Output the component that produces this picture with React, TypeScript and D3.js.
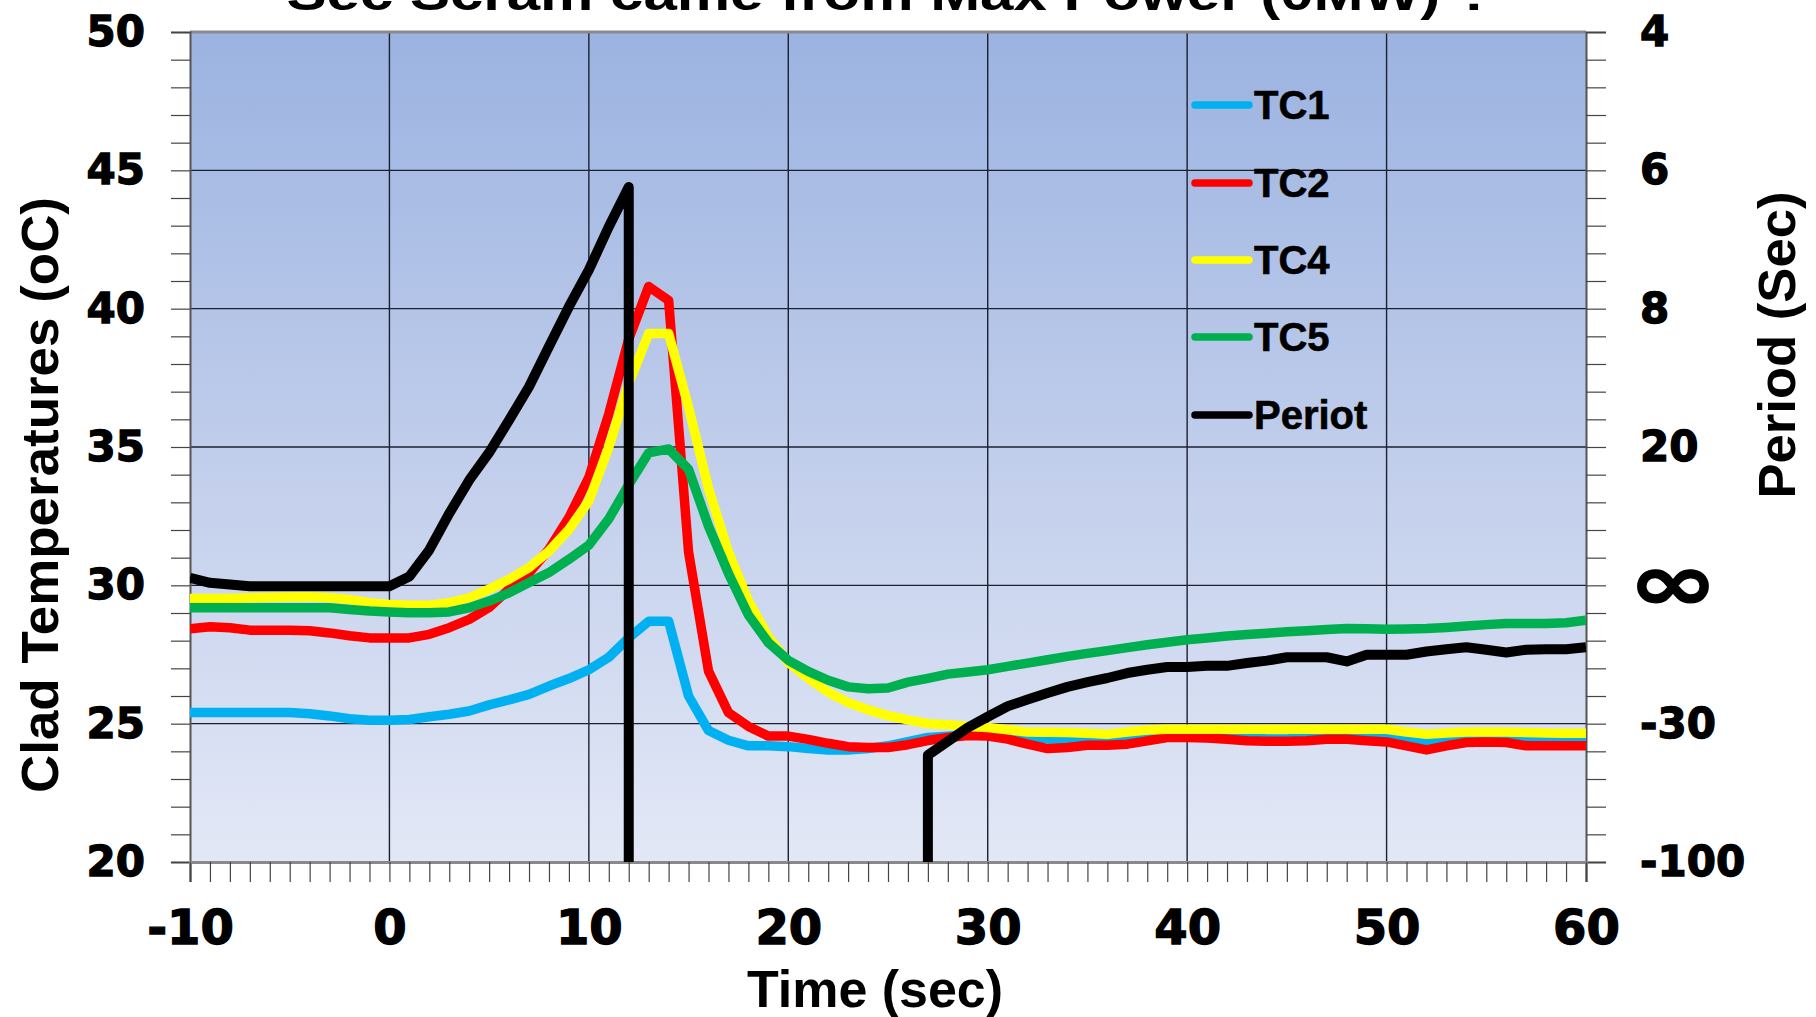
import React, { useRef, useEffect } from 'react';
import * as d3 from 'd3';

// time axis (sec)
const time = [
  -10, -9, -8, -7, -6, -5, -4, -3, -2, -1, 0,
  1, 2, 3, 4, 5, 6, 7, 8, 9, 10,
  11, 12, 13, 14, 15, 16, 17, 18, 19, 20,
  21, 22, 23, 24, 25, 26, 27, 28, 29, 30,
  31, 32, 33, 34, 35, 36, 37, 38, 39, 40,
  41, 42, 43, 44, 45, 46, 47, 48, 49, 50,
  51, 52, 53, 54, 55, 56, 57, 58, 59, 60,
];

const tc1 = [
  25.4, 25.4, 25.4, 25.4, 25.4, 25.4, 25.36, 25.28, 25.18, 25.12, 25.12,
  25.15, 25.25, 25.34, 25.46, 25.68, 25.86, 26.06, 26.36, 26.63, 26.95,
  27.4, 28.1, 28.7, 28.7, 26.0, 24.75, 24.4, 24.2, 24.2, 24.17,
  24.1, 24.05, 24.05, 24.1, 24.2, 24.35, 24.5, 24.55, 24.6, 24.6,
  24.55, 24.5, 24.45, 24.45, 24.45, 24.45, 24.45, 24.5, 24.55, 24.55,
  24.55, 24.55, 24.5, 24.45, 24.45, 24.5, 24.5, 24.5, 24.5, 24.5,
  24.4, 24.35, 24.4, 24.45, 24.45, 24.45, 24.4, 24.4, 24.4, 24.4,
];

const tc2 = [
  28.43, 28.5, 28.47, 28.38, 28.38, 28.38, 28.36, 28.28, 28.18, 28.1, 28.1,
  28.1, 28.23, 28.47, 28.77, 29.2, 29.86, 30.45, 31.3, 32.45, 33.9,
  36.2, 38.9, 40.8, 40.3, 31.2, 26.9, 25.4, 24.9, 24.55, 24.55,
  24.43, 24.29, 24.17, 24.14, 24.14, 24.24, 24.39, 24.5, 24.57, 24.55,
  24.44, 24.26, 24.1, 24.14, 24.22, 24.22, 24.26, 24.38, 24.5, 24.5,
  24.48, 24.44, 24.38, 24.36, 24.36, 24.38, 24.44, 24.44, 24.38, 24.34,
  24.2, 24.05, 24.2, 24.32, 24.34, 24.32, 24.2, 24.2, 24.2, 24.2,
];

const tc4 = [
  29.52, 29.52, 29.52, 29.55, 29.57, 29.58, 29.59, 29.55, 29.49, 29.37, 29.31,
  29.28, 29.28, 29.37, 29.55, 29.86, 30.22, 30.64, 31.24, 32.02, 33.05,
  35.0, 37.3, 39.1, 39.1, 36.43, 33.5, 31.2, 29.43, 28.14, 27.21,
  26.64, 26.14, 25.76, 25.5, 25.29, 25.14, 25.0, 24.96, 24.9, 24.86,
  24.78, 24.7, 24.69, 24.68, 24.65, 24.62, 24.7, 24.77, 24.8, 24.8,
  24.8, 24.8, 24.8, 24.8, 24.8, 24.8, 24.8, 24.8, 24.8, 24.8,
  24.7, 24.62, 24.66, 24.7, 24.7, 24.7, 24.68, 24.66, 24.65, 24.65,
];

const tc5 = [
  29.19, 29.19, 29.19, 29.19, 29.19, 29.19, 29.19, 29.19, 29.13, 29.07, 29.04,
  29.01, 29.01, 29.04, 29.19, 29.43, 29.73, 30.1, 30.46, 30.94, 31.45,
  32.4, 33.64, 34.79, 34.93, 34.19, 32.14, 30.43, 28.93, 27.93, 27.29,
  26.89, 26.57, 26.33, 26.26, 26.29, 26.5, 26.64, 26.79, 26.87, 26.95,
  27.07, 27.19, 27.31, 27.43, 27.54, 27.64, 27.75, 27.85, 27.94, 28.03,
  28.1, 28.17, 28.22, 28.27, 28.32, 28.36, 28.4, 28.44, 28.43, 28.41,
  28.42, 28.44, 28.48, 28.53, 28.58, 28.62, 28.62, 28.62, 28.65, 28.74,
];

// period trace, in left-axis units; it leaves the chart at 12 s and comes back at 27 s
const periodTime = [
  -10, -9, -8, -7, -6, -5, -4, -3, -2, -1, 0,
  1, 2, 3, 4, 5, 6, 7, 8, 9, 10, 11, 12,
  12, 20, 27,
  27, 28, 29, 30, 31, 32, 33, 34, 35, 36, 37, 38, 39, 40,
  41, 42, 43, 44, 45, 46, 47, 48, 49, 50,
  51, 52, 53, 54, 55, 56, 57, 58, 59, 60,
];
const periodValue = [
  30.27, 30.09, 30.03, 29.97, 29.97, 29.97, 29.97, 29.97, 29.97, 29.97, 29.97,
  30.32, 31.28, 32.6, 33.8, 34.8, 35.97, 37.18, 38.63, 40.07, 41.4, 42.96, 44.4,
  20, null, 20,
  23.86, 24.36, 24.86, 25.25, 25.63, 25.87, 26.11, 26.33, 26.5, 26.65, 26.83, 26.95, 27.05, 27.05,
  27.09, 27.09, 27.19, 27.28, 27.4, 27.4, 27.4, 27.25, 27.49, 27.49,
  27.49, 27.61, 27.69, 27.76, 27.67, 27.57, 27.67, 27.69, 27.69, 27.76,
];

const seriesNames = ['TC1', 'TC2', 'TC4', 'TC5', 'Periot'];
const seriesColors = ['#00b0f0', '#ff0000', '#ffff00', '#00b050', '#000000'];

const leftTicks = [20, 25, 30, 35, 40, 45, 50];
const rightTickLabels = ['-100', '-30', '\u221E', '20', '8', '6', '4'];
const xTicks = [-10, 0, 10, 20, 30, 40, 50, 60];

const W = 1816, H = 1017;
const margin = { left: 190, right: 230, top: 32, bottom: 155 };

export default function App() {
  const svgRef = useRef<SVGSVGElement>(null);

  useEffect(() => {
    const svg = d3.select(svgRef.current);
    svg.selectAll('*').remove();

    const x = d3.scaleLinear().domain([-10, 60]).range([margin.left, W - margin.right]);
    const y = d3.scaleLinear().domain([20, 50]).range([H - margin.bottom, margin.top]);
    const [x0, x1] = x.range();
    const [yb, yt] = y.range();

    const defs = svg.append('defs');
    const grad = defs.append('linearGradient').attr('id', 'bg').attr('x1', 0).attr('y1', 0).attr('x2', 0).attr('y2', 1);
    grad.append('stop').attr('offset', '0%').attr('stop-color', '#9bb3e1');
    grad.append('stop').attr('offset', '50%').attr('stop-color', '#c0cdeb');
    grad.append('stop').attr('offset', '100%').attr('stop-color', '#e3e8f6');
    defs.append('clipPath').attr('id', 'plot')
      .append('rect').attr('x', x0).attr('y', yt).attr('width', x1 - x0).attr('height', yb - yt);

    svg.append('rect').attr('x', x0).attr('y', yt).attr('width', x1 - x0).attr('height', yb - yt)
      .attr('fill', 'url(#bg)');

    // grid
    const grid = svg.append('g').attr('stroke', '#1c2030').attr('stroke-width', 1.4);
    grid.selectAll('.gx').data(xTicks.slice(1, -1)).join('line')
      .attr('x1', d => x(d)).attr('x2', d => x(d)).attr('y1', yt).attr('y2', yb);
    grid.selectAll('.gy').data(leftTicks.slice(1, -1)).join('line')
      .attr('y1', d => y(d)).attr('y2', d => y(d)).attr('x1', x0).attr('x2', x1);

    // frame
    svg.append('line').attr('x1', x0).attr('x2', x1).attr('y1', yt).attr('y2', yt)
      .attr('stroke', '#8a8a8a').attr('stroke-width', 3);

    const tickFont = "'DejaVu Sans', sans-serif";
    const heavy = (sel: any, size: number) => sel
      .attr('font-family', tickFont).attr('font-weight', 'bold').attr('font-size', size)
      .attr('fill', '#000').attr('stroke', '#000').attr('stroke-width', 1.3);

    // left axis
    const yAxis = svg.append('g').attr('transform', `translate(${x0},0)`)
      .call(d3.axisLeft(y).tickValues(d3.range(20, 51, 1)).tickSize(19).tickPadding(26)
        .tickFormat(d => (+d % 5 === 0 ? String(d) : '')));
    yAxis.select('.domain').attr('stroke', '#555').attr('stroke-width', 2);
    yAxis.selectAll('.tick line').attr('stroke', '#444').attr('stroke-width', 1.2);
    heavy(yAxis.selectAll('.tick text'), 42);

    // right axis
    const rAxis = svg.append('g').attr('transform', `translate(${x1},0)`)
      .call(d3.axisRight(y).tickValues(d3.range(20, 51, 1)).tickSize(20).tickPadding(34)
        .tickFormat(d => (+d % 5 === 0 ? rightTickLabels[leftTicks.indexOf(+d)] : '')));
    rAxis.select('.domain').attr('stroke', '#555').attr('stroke-width', 2);
    rAxis.selectAll('.tick line').attr('stroke', '#444').attr('stroke-width', 1.2);
    heavy(rAxis.selectAll('.tick text'), 42);
    rAxis.selectAll<SVGTextElement, number>('.tick text')
      .filter(function () { return this.textContent === '\u221E'; })
      .attr('font-size', 80).attr('textLength', 90).attr('lengthAdjust', 'spacingAndGlyphs')
      .attr('dx', -12).attr('dy', '0.30em');

    // bottom axis
    const xAxis = svg.append('g').attr('transform', `translate(0,${yb})`)
      .call(d3.axisBottom(x).tickValues(d3.range(-10, 61, 1)).tickSize(20).tickPadding(28)
        .tickFormat(d => (+d % 10 === 0 ? String(d) : '')));
    xAxis.select('.domain').attr('stroke', '#8a8a8a').attr('stroke-width', 3);
    xAxis.selectAll('.tick line').attr('stroke', '#444').attr('stroke-width', 1.2);
    heavy(xAxis.selectAll('.tick text'), 48);

    // series
    const line = d3.line<[number, number | null]>()
      .defined(d => d[1] !== null)
      .x(d => x(d[0]))
      .y(d => y(d[1] as number));

    const all = [tc1, tc2, tc4, tc5].map(vals => time.map((t, i) => [t, vals[i]] as [number, number | null]));
    all.push(periodTime.map((t, i) => [t, periodValue[i]] as [number, number | null]));

    svg.append('g').attr('clip-path', 'url(#plot)')
      .selectAll('path').data(all).join('path')
      .attr('d', d => line(d))
      .attr('fill', 'none')
      .attr('stroke', (d, i) => seriesColors[i])
      .attr('stroke-width', (d, i) => (i === 4 ? 10 : 9.5))
      .attr('stroke-linejoin', 'round');

    // legend
    const legend = svg.append('g');
    const legY = [105, 183, 260, 337, 415];
    seriesNames.forEach((name, i) => {
      legend.append('line').attr('x1', 1195).attr('x2', 1249).attr('y1', legY[i]).attr('y2', legY[i])
        .attr('stroke', seriesColors[i]).attr('stroke-width', 7.5).attr('stroke-linecap', 'round');
      legend.append('text').attr('x', 1254).attr('y', legY[i]).attr('dy', '0.36em')
        .attr('font-family', "'Liberation Sans', Arial, sans-serif").attr('font-weight', 'bold')
        .attr('font-size', 40).attr('fill', '#000').attr('stroke', '#000').attr('stroke-width', 0.6)
        .text(name);
    });

    const titleFont = "'Liberation Sans', Arial, sans-serif";

    // axis titles
    svg.append('text').attr('transform', 'translate(58,495) rotate(-90)')
      .attr('text-anchor', 'middle').attr('font-family', titleFont).attr('font-weight', 'bold')
      .attr('font-size', 52).attr('textLength', 596).attr('lengthAdjust', 'spacingAndGlyphs')
      .text('Clad Temperatures (oC)');
    svg.append('text').attr('transform', 'translate(1795,345) rotate(-90)')
      .attr('text-anchor', 'middle').attr('font-family', titleFont).attr('font-weight', 'bold')
      .attr('font-size', 52).attr('textLength', 307).attr('lengthAdjust', 'spacingAndGlyphs')
      .text('Period (Sec)');
    svg.append('text').attr('x', 875).attr('y', 1007)
      .attr('text-anchor', 'middle').attr('font-family', titleFont).attr('font-weight', 'bold')
      .attr('font-size', 52).attr('textLength', 256).attr('lengthAdjust', 'spacingAndGlyphs')
      .text('Time (sec)');

    // title, cut off by the top of the picture as in the original
    svg.append('text').attr('x', 890).attr('y', 10)
      .attr('text-anchor', 'middle').attr('font-family', titleFont).attr('font-weight', 'bold')
      .attr('font-size', 48).attr('textLength', 1207).attr('lengthAdjust', 'spacingAndGlyphs')
      .text('Sec Scram came from Max Power (0MW) ?');
  }, []);

  return (
    <svg ref={svgRef} width={W} height={H}
      style={{ position: 'absolute', left: 0, top: 0, background: '#fff' }} />
  );
}
